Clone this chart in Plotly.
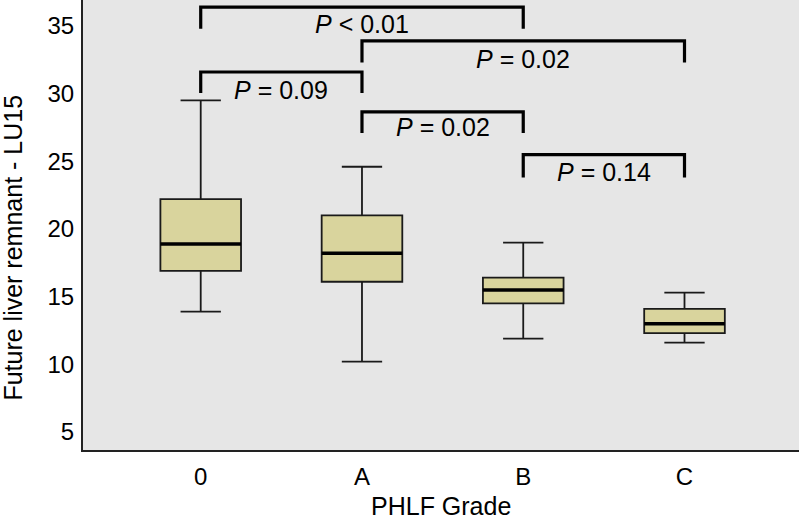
import plotly.graph_objects as go

categories = ["0", "A", "B", "C"]
upper = [29.5, 24.6, 19.0, 15.3]
q3 = [22.2, 21.0, 16.4, 14.1]
median = [18.9, 18.2, 15.5, 13.0]
q1 = [16.9, 16.1, 14.5, 12.3]
lower = [13.9, 10.2, 11.9, 11.6]

# significance brackets: (from index, to index, bar height, leg bottom, label, label y)
br_from = [0, 1, 0, 1, 2]
br_to = [2, 3, 1, 2, 3]
br_top = [36.4, 33.9, 31.6, 28.65, 25.5]
br_bottom = [34.8, 32.3, 30.05, 27.1, 23.8]
br_label = ["<i>P</i> < 0.01", "<i>P</i> = 0.02", "<i>P</i> = 0.09", "<i>P</i> = 0.02", "<i>P</i> = 0.14"]
br_label_y = [35.15, 32.55, 30.3, 27.5, 24.2]

FONT = "Liberation Sans, Arial, sans-serif"
BOX_W = 0.5

fig = go.Figure()
for i, c in enumerate(categories):
    fig.add_trace(go.Box(
        x=[i], q1=[q1[i]], median=[median[i]], q3=[q3[i]],
        lowerfence=[lower[i]], upperfence=[upper[i]],
        width=BOX_W, whiskerwidth=0.5,
        fillcolor="#d9d49d", line=dict(color="#1a1a1a", width=1.8),
        boxpoints=False, showlegend=False, hoverinfo="skip",
    ))
    fig.add_trace(go.Scatter(
        x=[i - BOX_W / 2, i + BOX_W / 2], y=[median[i], median[i]],
        mode="lines", line=dict(color="black", width=3.5),
        showlegend=False, hoverinfo="skip",
    ))

for a, b, top, bot, lab, ly in zip(br_from, br_to, br_top, br_bottom, br_label, br_label_y):
    fig.add_trace(go.Scatter(
        x=[a, a, b, b], y=[bot, top, top, bot],
        mode="lines", line=dict(color="black", width=3.2),
        showlegend=False, hoverinfo="skip",
    ))
    fig.add_annotation(x=(a + b) / 2, y=ly, text=lab, showarrow=False,
                       font=dict(family=FONT, size=25, color="black"))

# axis titles as annotations for exact placement
fig.add_annotation(xref="paper", yref="paper", x=-0.099, y=0.45, text="Future liver remnant - LU15",
                   textangle=-90, showarrow=False, xanchor="center", yanchor="middle",
                   font=dict(family=FONT, size=25, color="black"))
fig.add_annotation(xref="paper", yref="paper", x=0.5, y=-0.125, text="PHLF Grade",
                   showarrow=False, xanchor="center", yanchor="middle",
                   font=dict(family=FONT, size=25, color="black"))

fig.update_layout(
    width=800, height=519,
    margin=dict(l=83, r=1, t=0, b=69, autoexpand=False),
    paper_bgcolor="white", plot_bgcolor="#e6e6e6",
    font=dict(family=FONT, size=24, color="black"),
    showlegend=False,
)
fig.update_xaxes(
    range=[-0.73, 3.71], tickmode="array", tickvals=list(range(len(categories))),
    ticktext=categories, showgrid=False, zeroline=False, automargin=False,
    showline=True, linecolor="#222", linewidth=2, ticks="", ticklabelstandoff=4,
)
fig.update_yaxes(
    range=[3.67, 36.92], tickvals=[5, 10, 15, 20, 25, 30, 35],
    showgrid=False, zeroline=False, automargin=False,
    showline=True, linecolor="#222", linewidth=2, ticks="", ticklabelstandoff=2,
)

fig.write_html("out.html", config={"displayModeBar": False},
               post_script="document.body.style.margin='0';")
